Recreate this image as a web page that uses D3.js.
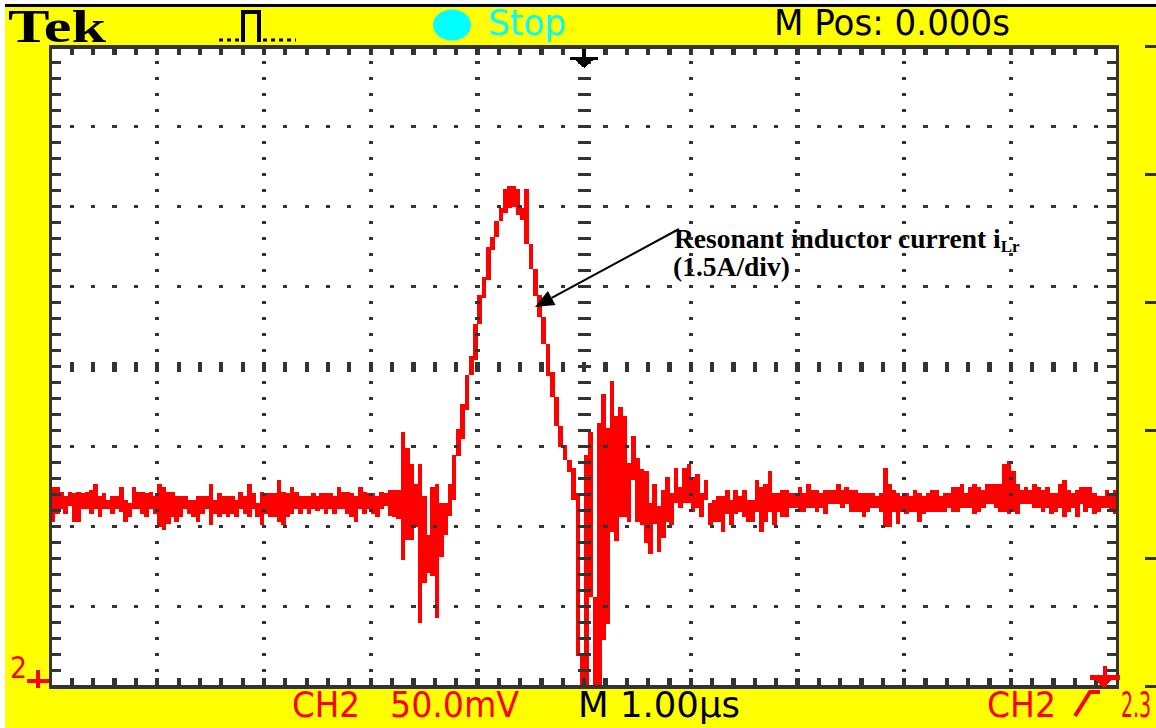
<!DOCTYPE html>
<html><head><meta charset="utf-8">
<script src="https://cdn.jsdelivr.net/npm/d3@7"></script>
<style>html,body{margin:0;padding:0;background:#fff;} svg{display:block}</style>
</head><body>
<svg id="chart" width="1156" height="728"></svg>
<script>
// ---- Data (CH2, 50.0 mV/div, 1.00 µs/div, relative to screen centre) ----
const tStart = -5;      // µs, left edge of record
const dt = 0.04;        // µs per display column
const ch2Max = [
-75,-75,-78,-81,-78,-79,-78,-79,-78,-77,
-73,-81,-79,-83,-81,-81,-75,-83,-85,-75,
-78,-78,-79,-78,-81,-73,-75,-78,-78,-81,
-81,-81,-83,-83,-81,-81,-81,-73,-83,-79,
-81,-81,-81,-83,-78,-81,-73,-79,-85,-78,
-79,-79,-79,-71,-78,-79,-75,-78,-81,-81,
-81,-79,-81,-79,-79,-79,-81,-75,-78,-78,
-79,-81,-75,-78,-79,-79,-81,-78,-79,
-77,-77,-77,
-41,-51,-61,-73,-61,-81,-105,-75,-73,-85,-85,-73,-55,-39,-23,
-5,7,27,45,56,75,81,91,99,111,113,113,111,99,111,77,61,45,31,14,-3,-19,-37,
-49,-58,-63,-79,-179,-55,-41,-144,-35,-17,-38,-9,-31,-25,-31,-60,-43,-57,-64,
-65,-85,-73,-87,-77,-69,-79,-63,-75,-63,
-61,-69,-67,-79,-71,-85,-83,-81,-81,-77,
-83,-77,-81,-77,-83,-83,-71,-75,-73,-65,
-79,-79,-77,-77,-79,-79,-75,-79,-73,-77,
-77,-79,-77,-77,-77,-73,-77,-75,-77,-77,
-79,-79,-79,-79,-81,-79,-63,-73,-77,-79,
-81,-79,-81,-77,-79,-81,-79,-77,-77,-81,
-79,-79,-75,-75,-73,-79,-75,-73,-75,-77,
-73,-73,-73,-73,-61,-59,-65,-73,-77,-75,
-77,-73,-75,-77,-75,-79,-79,-73,-71,-77,
-79,-77,-75,-75,-75,-79,-81,-81,-77,-79,
-77
];
const ch2Min = [
-97,-92,-89,-92,-87,-97,-97,-89,-89,-92,
-89,-94,-89,-89,-92,-89,-91,-97,-94,-89,
-89,-92,-94,-89,-92,-100,-102,-98,-94,-97,
-94,-89,-92,-94,-97,-92,-89,-99,-92,-94,
-92,-94,-92,-94,-89,-92,-94,-89,-94,-99,
-92,-94,-94,-97,-99,-94,-92,-89,-92,-89,
-92,-89,-90,-89,-92,-89,-92,-89,-89,-92,
-94,-97,-89,-92,-89,-92,-94,-89,-87,
-93,-94,-95,
-121,-108,-108,-100,-160,-135,-129,-131,-157,-119,-105,-93,-83,-56,-45,
-27,-5,4,27,43,54,73,81,91,96,99,100,95,92,77,61,44,31,14,-6,-19,-37,-50,
-58,-66,-83,-181,-200,-200,-144,-199,-199,-171,-161,-103,-109,-94,-94,-97,-71,-97,-99,
-110,-117,-98,-116,-107,-97,-99,-85,-88,-85,
-85,-91,-88,-94,-83,-99,-97,-97,-103,-92,
-99,-92,-91,-94,-97,-97,-91,-103,-97,-91,
-99,-91,-94,-94,-88,-88,-91,-91,-88,-88,
-91,-88,-92,-86,-86,-86,-88,-86,-91,-91,
-91,-94,-91,-88,-88,-91,-100,-100,-91,-98,
-91,-92,-91,-91,-97,-92,-91,-91,-91,-91,
-91,-88,-91,-91,-88,-88,-88,-92,-91,-88,
-86,-86,-88,-91,-91,-92,-91,-92,-86,-86,
-86,-88,-88,-91,-88,-92,-91,-88,-94,-91,
-88,-94,-86,-91,-88,-92,-91,-88,-88,-91,
-92
];
// graticule (10 x 8 divisions)
const timeDivs = [-5,-4,-3,-2,-1,0,1,2,3,4,5];          // µs
const voltDivs = [-200,-150,-100,-50,0,50,100,150,200];  // mV
const minorPerDiv = 5;
const sideMarks = [200,120,40,-40,-120,-200];            // mV, marks right of screen

// ---- Scales ----
const W = 1156, H = 728;
const x = d3.scaleLinear().domain([-5, 5]).range([50.6, 1117.6]);
const y = d3.scaleLinear().domain([-200, 200]).range([686.7, 46.7]);
const px = (x(1) - x(0)) / 25;   // one scope pixel horizontally
const py = (y(0) - y(50)) / 25;  // one scope pixel vertically

const GRID = '#333333', RED = '#ff0000', YEL = '#ffff00', CYAN = '#00ffff';
const svg = d3.select('#chart');

// ---- Frame / background ----
svg.append('rect').attr('width', W).attr('height', H).attr('fill', '#ffffff');
svg.append('rect').attr('x', 5).attr('y', 4).attr('width', W - 5).attr('height', H - 4).attr('fill', YEL);
svg.append('rect').attr('x', 5).attr('y', 4).attr('width', W - 5).attr('height', 3).attr('fill', '#000');
svg.append('rect').attr('x', x(-5)).attr('y', y(200)).attr('width', x(5) - x(-5))
  .attr('height', y(-200) - y(200)).attr('fill', '#ffffff');

// ---- Trace ----
svg.append('clipPath').attr('id', 'clip').append('rect')
  .attr('x', x(-5)).attr('y', y(200)).attr('width', x(5) - x(-5)).attr('height', y(-200) - y(200));
svg.append('g').attr('clip-path', 'url(#clip)').attr('shape-rendering', 'crispEdges')
  .selectAll('rect').data(d3.range(ch2Max.length)).join('rect')
  .attr('x', i => x(tStart + i * dt))
  .attr('width', x(dt) - x(0) + 0.4)
  .attr('y', i => y(ch2Max[i]))
  .attr('height', i => Math.max(y(ch2Min[i]) - y(ch2Max[i]), py))
  .attr('fill', RED);

// ---- Annotation ----
const ann = svg.append('g').attr('font-family', '"Liberation Serif", "Times New Roman", serif')
  .attr('font-weight', 'bold').attr('fill', '#000');
const t1 = ann.append('text').attr('x', 674).attr('y', 248).attr('font-size', 27.5);
t1.append('tspan').text('Resonant inductor current i');
t1.append('tspan').attr('font-size', 17).attr('dy', 4).text('Lr');
ann.append('text').attr('x', 673).attr('y', 276).attr('font-size', 27.5).text('(1.5A/div)');
// arrow
const ax0 = 679, ay0 = 229, ax1 = 535, ay1 = 307;
const ang = Math.atan2(ay1 - ay0, ax1 - ax0);
const hl = 19, hw = 8;
const bx = ax1 - hl * Math.cos(ang), by = ay1 - hl * Math.sin(ang);
ann.append('line').attr('x1', ax0).attr('y1', ay0).attr('x2', bx).attr('y2', by)
  .attr('stroke', '#000').attr('stroke-width', 2);
ann.append('path').attr('d',
  `M${ax1},${ay1}L${bx + hw * Math.sin(ang)},${by - hw * Math.cos(ang)}L${bx - hw * Math.sin(ang)},${by + hw * Math.cos(ang)}Z`)
  .attr('fill', '#000');

// ---- Graticule ----
const g = svg.append('g').attr('fill', GRID).attr('shape-rendering', 'crispEdges');
const tMinor = d3.range(-5 * minorPerDiv, 5 * minorPerDiv + 1).map(k => k / minorPerDiv);
const vMinor = d3.range(-4 * minorPerDiv, 4 * minorPerDiv + 1).map(k => k * 50 / minorPerDiv);
const tIn = tMinor.slice(1, -1), vIn = vMinor.slice(1, -1);
// dots on vertical grid lines
timeDivs.filter(t => t !== 0 && Math.abs(t) !== 5).forEach(t => {
  g.append('g').selectAll('rect').data(vIn).join('rect')
    .attr('x', x(t) - px / 2).attr('y', v => y(v) - py / 2).attr('width', px).attr('height', py);
});
// dots on horizontal grid lines
voltDivs.filter(v => v !== 0 && Math.abs(v) !== 200).forEach(v => {
  g.append('g').selectAll('rect').data(tIn).join('rect')
    .attr('x', t => x(t) - px / 2).attr('y', y(v) - py / 2).attr('width', px).attr('height', py);
});
// centre axes ticks
g.append('g').selectAll('rect').data(vIn).join('rect')
  .attr('x', x(0) - 1.5 * px).attr('y', v => y(v) - py / 2).attr('width', 3 * px).attr('height', py);
g.append('g').selectAll('rect').data(tIn).join('rect')
  .attr('x', t => x(t) - px / 2).attr('y', y(0) - 1.5 * py).attr('width', px).attr('height', 3 * py);
// border ticks
g.append('g').selectAll('rect').data(tIn).join('rect')
  .attr('x', t => x(t) - px / 2).attr('y', y(200)).attr('width', px).attr('height', 2.6 * py);
g.append('g').selectAll('rect').data(tIn).join('rect')
  .attr('x', t => x(t) - px / 2).attr('y', y(-200) - 2.6 * py).attr('width', px).attr('height', 2.6 * py);
g.append('g').selectAll('rect').data(vIn).join('rect')
  .attr('x', x(-5)).attr('y', v => y(v) - py / 2).attr('width', 2.4 * px).attr('height', py);
g.append('g').selectAll('rect').data(vIn).join('rect')
  .attr('x', x(5) - 2.4 * px).attr('y', v => y(v) - py / 2).attr('width', 2.4 * px).attr('height', py);
// border
const bw = 3.6;
g.append('rect').attr('x', x(-5) - bw / 2).attr('y', y(200) - bw / 2).attr('width', x(5) - x(-5) + bw).attr('height', bw);
g.append('rect').attr('x', x(-5) - bw / 2).attr('y', y(-200) - bw / 2).attr('width', x(5) - x(-5) + bw).attr('height', bw);
g.append('rect').attr('x', x(-5) - bw / 2).attr('y', y(200) - bw / 2).attr('width', bw).attr('height', y(-200) - y(200) + bw);
g.append('rect').attr('x', x(5) - bw / 2).attr('y', y(200) - bw / 2).attr('width', bw).attr('height', y(-200) - y(200) + bw);
// marks to the right of the screen
g.append('g').selectAll('rect').data(sideMarks).join('rect')
  .attr('x', 1145).attr('y', v => y(v) - 1.5).attr('width', 11).attr('height', 3);

// trigger position marker (top)
const tp = svg.append('g').attr('fill', '#000').attr('shape-rendering', 'crispEdges');
tp.append('rect').attr('x', x(0) - 14).attr('y', 57).attr('width', 28).attr('height', 3);
tp.append('rect').attr('x', x(0) - 2).attr('y', 49).attr('width', 4).attr('height', 16);
tp.append('path').attr('d', `M${x(0) - 9},60L${x(0) + 9},60L${x(0)},68Z`);

// ---- Top status bar ----
svg.append('text').attr('x', 8).attr('y', 42).attr('font-family', '"Liberation Serif", serif')
  .attr('font-weight', 'bold').attr('font-size', 46).attr('textLength', 98)
  .attr('lengthAdjust', 'spacingAndGlyphs').attr('fill', '#000').text('Tek');
// acquisition icon
const ic = svg.append('g').attr('stroke', '#000').attr('fill', 'none');
ic.append('path').attr('d', 'M219,40H241').attr('stroke-width', 3).attr('stroke-dasharray', '4,4');
ic.append('path').attr('d', 'M243,42V12H259V42').attr('stroke-width', 4);
ic.append('path').attr('d', 'M263,40H296').attr('stroke-width', 3).attr('stroke-dasharray', '4,4');
svg.append('ellipse').attr('cx', 452).attr('cy', 25).attr('rx', 19).attr('ry', 15.5).attr('fill', CYAN);

const mono = 'DejaVu Sans, sans-serif';
function label(txt, xx, yy, len, col, fs) {
  return svg.append('text').attr('x', xx).attr('y', yy).attr('font-family', mono)
    .attr('font-size', fs || 35).attr('fill', col).attr('textLength', len)
    .attr('lengthAdjust', 'spacingAndGlyphs').text(txt);
}
label('Stop', 488, 35, 78, CYAN);
label('M Pos: 0.000s', 774, 35, 236, '#000');
// ---- Bottom status bar ----
label('CH2', 292, 717, 68, RED);
label('50.0mV', 390, 717, 129, RED);
label('M 1.00\u00b5s', 578, 717, 162, '#000');
label('CH2', 987, 717, 69, RED);
svg.append('path').attr('d', 'M1075,716L1090,692H1100').attr('stroke', RED).attr('stroke-width', 4).attr('fill', 'none');
svg.append('g').attr('transform', 'translate(1121,717) scale(0.54,1)')
  .append('text').attr('x', 0).attr('y', 0).attr('font-family', mono).attr('font-size', 35)
  .attr('fill', RED).text('2.3');
// channel 2 ground marker
label('2', 10, 678, 17, RED, 30);
const gm = svg.append('g').attr('fill', RED).attr('shape-rendering', 'crispEdges');
gm.append('rect').attr('x', 27).attr('y', 679).attr('width', 22).attr('height', 4);
gm.append('rect').attr('x', 36).attr('y', 670).attr('width', 4.3).attr('height', 18);
// trigger level marker
const tl = svg.append('g').attr('fill', RED).attr('shape-rendering', 'crispEdges');
tl.append('rect').attr('x', 1090).attr('y', 675).attr('width', 30).attr('height', 5);
tl.append('rect').attr('x', 1102.5).attr('y', 666).attr('width', 4.5).attr('height', 21);
tl.append('path').attr('d', 'M1094,679H1112L1104,688Z');
</script>
</body></html>
